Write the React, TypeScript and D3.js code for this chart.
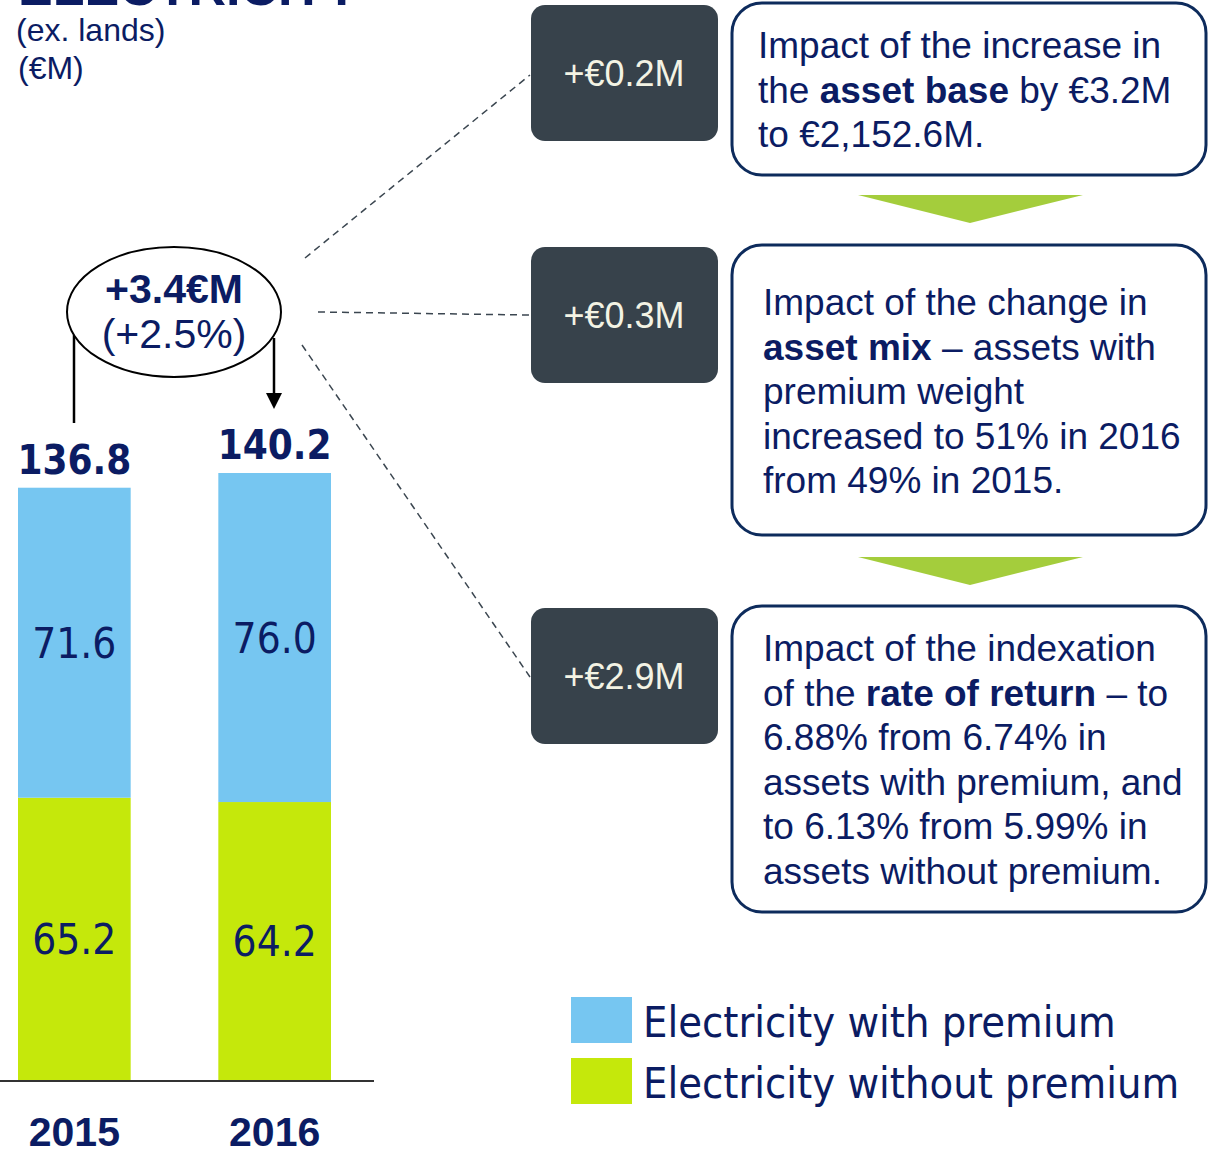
import React from 'react'
import * as d3 from 'd3'

const years = ['2015', '2016']
const withPremium = [71.6, 76.0]
const withoutPremium = [65.2, 64.2]
const totals = [136.8, 140.2]
const seriesNames = ['Electricity without premium', 'Electricity with premium']
const seriesColors = ['#c5e80b', '#76c6f1']
const impacts = ['+€0.2M', '+€0.3M', '+€2.9M']
const change = ['+3.4€M', '(+2.5%)']

// each line is a list of [text, bold] pieces
type Piece = [string, boolean]
const boxTexts: Piece[][][] = [
  [
    [['Impact of the increase in', false]],
    [['the ', false], ['asset base', true], [' by €3.2M', false]],
    [['to €2,152.6M.', false]]
  ],
  [
    [['Impact of the change in', false]],
    [['asset mix', true], [' – assets with', false]],
    [['premium weight', false]],
    [['increased to 51% in 2016', false]],
    [['from 49% in 2015.', false]]
  ],
  [
    [['Impact of the indexation', false]],
    [['of the ', false], ['rate of return', true], [' – to', false]],
    [['6.88% from 6.74% in', false]],
    [['assets with premium, and', false]],
    [['to 6.13% from 5.99% in', false]],
    [['assets without premium.', false]]
  ]
]

const NAVY = '#0b1c63'
const ARIAL = '"Liberation Sans", Arial, sans-serif'
const TAHOMA = '"DejaVu Sans Condensed", "DejaVu Sans", sans-serif'

export default function App() {
  const W = 1208
  const H = 1151
  const base = 1080

  const x = d3.scaleBand<string>().domain(years).range([18, 331]).paddingInner(0.4375)
  const y = d3.scaleLinear().domain([0, 140.2]).range([base, 473])

  const rows = years.map((yr, i) => ({year: yr, without: withoutPremium[i], with: withPremium[i]}))
  const stack = d3.stack<any>().keys(['without', 'with'])(rows)

  const darkBoxes = [
    {y: 5, h: 136},
    {y: 247, h: 136},
    {y: 608, h: 136}
  ]
  const textBoxes = [
    {y: 3, h: 172, x0: 758, b0: 58},
    {y: 245, h: 290, x0: 763, b0: 315},
    {y: 606, h: 306, x0: 763, b0: 661}
  ]
  const lineGap = 44.6

  const ex = 174
  const ey = 312

  return (
    <svg width={W} height={H} style={{position: 'absolute', left: 0, top: 0}}>
      <rect width={W} height={H} fill="#fff" />

      {/* title block, cut at the top */}
      <text x={18} y={5} fontFamily={ARIAL} fontWeight="bold" fontSize={52} fill={NAVY}>
        ELECTRICITY
      </text>
      <text x={16} y={41} fontFamily={ARIAL} fontSize={32} fill={NAVY}>(ex. lands)</text>
      <text x={18} y={79} fontFamily={ARIAL} fontSize={32} fill={NAVY}>(€M)</text>

      {/* stacked bars */}
      {stack.map((s, si) => (
        <g key={si}>
          {s.map((d, i) => {
            const x0 = x(years[i])!
            const top = y(d[1])
            const bot = y(d[0])
            return (
              <g key={i}>
                <rect x={x0} y={top} width={x.bandwidth()} height={bot - top} fill={seriesColors[si]} />
                <text
                  x={x0 + x.bandwidth() / 2}
                  y={(top + bot) / 2 + 15}
                  textAnchor="middle"
                  fontFamily={TAHOMA}
                  fontSize={42}
                  fill={NAVY}
                >
                  {(d[1] - d[0]).toFixed(1)}
                </text>
              </g>
            )
          })}
        </g>
      ))}

      {/* totals */}
      {years.map((yr, i) => (
        <text
          key={yr}
          x={x(yr)! + x.bandwidth() / 2}
          y={y(totals[i]) - 14}
          textAnchor="middle"
          fontFamily={TAHOMA}
          fontWeight="bold"
          fontSize={40}
          fill={NAVY}
        >
          {totals[i].toFixed(1)}
        </text>
      ))}

      {/* baseline */}
      <line x1={0} x2={374} y1={base + 1} y2={base + 1} stroke="#333" strokeWidth={2} />
      {years.map(yr => (
        <text
          key={yr}
          x={x(yr)! + x.bandwidth() / 2}
          y={1146}
          textAnchor="middle"
          fontFamily={ARIAL}
          fontWeight="bold"
          fontSize={41}
          fill={NAVY}
        >
          {yr}
        </text>
      ))}

      {/* change callout */}
      <line x1={74} x2={74} y1={335} y2={423} stroke="#000" strokeWidth={2.5} />
      <line x1={274} x2={274} y1={338} y2={396} stroke="#000" strokeWidth={2.5} />
      <path d="M266,393 L282,393 L274,409 Z" fill="#000" />
      <ellipse cx={ex} cy={ey} rx={107} ry={65} fill="#fff" stroke="#000" strokeWidth={2} />
      <text x={ex} y={303} textAnchor="middle" fontFamily={ARIAL} fontWeight="bold" fontSize={41} fill={NAVY}>
        {change[0]}
      </text>
      <text x={ex} y={348} textAnchor="middle" fontFamily={ARIAL} fontSize={41} fill={NAVY}>
        {change[1]}
      </text>

      {/* dashed connectors */}
      <g stroke="#3b4650" strokeWidth={1.5} strokeDasharray="7,5" fill="none">
        <line x1={305} y1={258} x2={530} y2={75} />
        <line x1={318} y1={312} x2={530} y2={315} />
        <line x1={302} y1={345} x2={530} y2={677} />
      </g>

      {/* impact boxes */}
      {darkBoxes.map((b, i) => (
        <g key={i}>
          <rect x={531} y={b.y} width={187} height={b.h} rx={14} fill="#37424b" />
          <text
            x={624}
            y={b.y + b.h / 2 + 13}
            textAnchor="middle"
            fontFamily={ARIAL}
            fontSize={36}
            fill="#f3f3e4"
          >
            {impacts[i]}
          </text>
        </g>
      ))}

      {textBoxes.map((b, i) => (
        <g key={i}>
          <rect x={732} y={b.y} width={474} height={b.h} rx={30} fill="#fff" stroke="#0d2b5c" strokeWidth={3} />
          {boxTexts[i].map((line, li) => (
            <text key={li} x={b.x0} y={b.b0 + li * lineGap} fontFamily={ARIAL} fontSize={37} fill={NAVY}>
              {line.map((p, pi) => (
                <tspan key={pi} fontWeight={p[1] ? 'bold' : 'normal'}>
                  {p[0]}
                </tspan>
              ))}
            </text>
          ))}
        </g>
      ))}

      {/* green arrows between boxes */}
      {[195, 557].map(ty => (
        <path key={ty} d={`M858,${ty} L1083,${ty} L970,${ty + 28} Z`} fill="#a4cd3c" />
      ))}

      {/* legend */}
      {[1, 0].map((si, k) => (
        <g key={si}>
          <rect x={571} y={997 + k * 61} width={61} height={46} fill={seriesColors[si]} />
          <text x={643} y={1037 + k * 61} fontFamily={TAHOMA} fontSize={43} fill={NAVY}>
            {seriesNames[si]}
          </text>
        </g>
      ))}
    </svg>
  )
}
